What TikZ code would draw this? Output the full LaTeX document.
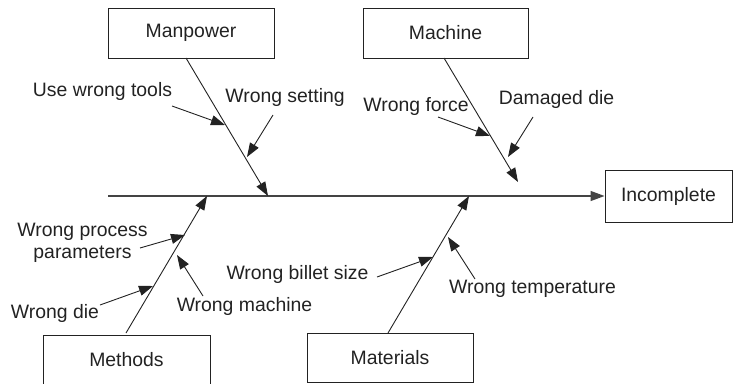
\documentclass[tikz,border=0pt]{standalone}
\usepackage{fontspec}
\setmainfont{Liberation Sans}
\usetikzlibrary{arrows.meta}
\definecolor{ink}{HTML}{222222}
\definecolor{spinecol}{HTML}{444444}
\tikzset{
  box/.style={draw=ink, line width=0.9pt, inner sep=0pt, text=ink, font=\fontsize{19.4}{22}\selectfont},
  lbl/.style={inner sep=0pt, text=ink, font=\fontsize{19.4}{22}\selectfont, align=center},
  tip/.style={-{Triangle[length=14pt,width=10pt]}},
  bone/.style={draw=ink, line width=0.9pt},
  cause/.style={draw=ink, line width=0.9pt, tip},
}
\begin{document}
\begin{tikzpicture}[x=1pt,y=-1pt]
\useasboundingbox (0,0) rectangle (738,383);
\begin{scope}
\clip (0,0) rectangle (738,383);
% category boxes
\node[box, minimum width=166pt, minimum height=50pt] (mp) at (191,33) {Manpower};
\node[box, minimum width=165pt, minimum height=50pt] (mc) at (445.5,33) {Machine};
\node[box, minimum width=127pt, minimum height=52pt] (inc) at (668.5,196) {Incomplete};
\node[box, minimum width=167pt, minimum height=50pt] (me) at (126.5,360) {Methods};
\node[box, minimum width=166pt, minimum height=49pt] (ma) at (390,357.5) {Materials};
\end{scope}
% spine
\coordinate (sp0) at (108,196);
\draw[draw=spinecol, line width=1.3pt, tip] (sp0) -- (inc.west);
% bones
\coordinate (mpa) at (186,58);  \coordinate (mpb) at (268,196);
\coordinate (mca) at (444,58);  \coordinate (mcb) at (518,182);
\coordinate (mea) at (126,333); \coordinate (meb) at (207,196);
\coordinate (maa) at (388,333); \coordinate (mab) at (469,196);
\draw[bone, tip] (mpa) -- (mpb);
\draw[bone, tip] (mca) -- (mcb);
\draw[bone, tip] (mea) -- (meb);
\draw[bone, tip] (maa) -- (mab);
% cause labels
\node[lbl] (uwt) at (102.5,91) {Use wrong tools};
\node[lbl] (ws) at (285,97) {Wrong setting};
\node[lbl] (wf) at (416,106) {Wrong force};
\node[lbl] (dd) at (556.5,99) {Damaged die};
\node[lbl] (wpp) at (82.5,243) {Wrong process\\parameters};
\node[lbl] (wm) at (244.5,306) {Wrong machine};
\node[lbl] (wd) at (55,313) {Wrong die};
\node[lbl] (wbs) at (297.5,274) {Wrong billet size};
\node[lbl] (wt) at (532.5,289) {Wrong temperature};
% cause arrows
\coordinate (uwta) at (172,106); \coordinate (uwtb) at (225,125);
\coordinate (wsa) at (273,115);  \coordinate (wsb) at (247,157);
\coordinate (wfa) at (438,117);  \coordinate (wfb) at (490,136);
\coordinate (dda) at (533,117);  \coordinate (ddb) at (508,157);
\coordinate (wppa) at (140,248); \coordinate (wppb) at (185,235);
\coordinate (wma) at (203,296);  \coordinate (wmb) at (177,255);
\coordinate (wda) at (100,305);  \coordinate (wdb) at (153,286);
\coordinate (wbsa) at (377,277); \coordinate (wbsb) at (433,257);
\coordinate (wta) at (475,279);  \coordinate (wtb) at (448,237);
\draw[cause] (uwta) -- (uwtb);
\draw[cause] (wsa) -- (wsb);
\draw[cause] (wfa) -- (wfb);
\draw[cause] (dda) -- (ddb);
\draw[cause] (wppa) -- (wppb);
\draw[cause] (wma) -- (wmb);
\draw[cause] (wda) -- (wdb);
\draw[cause] (wbsa) -- (wbsb);
\draw[cause] (wta) -- (wtb);
\end{tikzpicture}
\end{document}
